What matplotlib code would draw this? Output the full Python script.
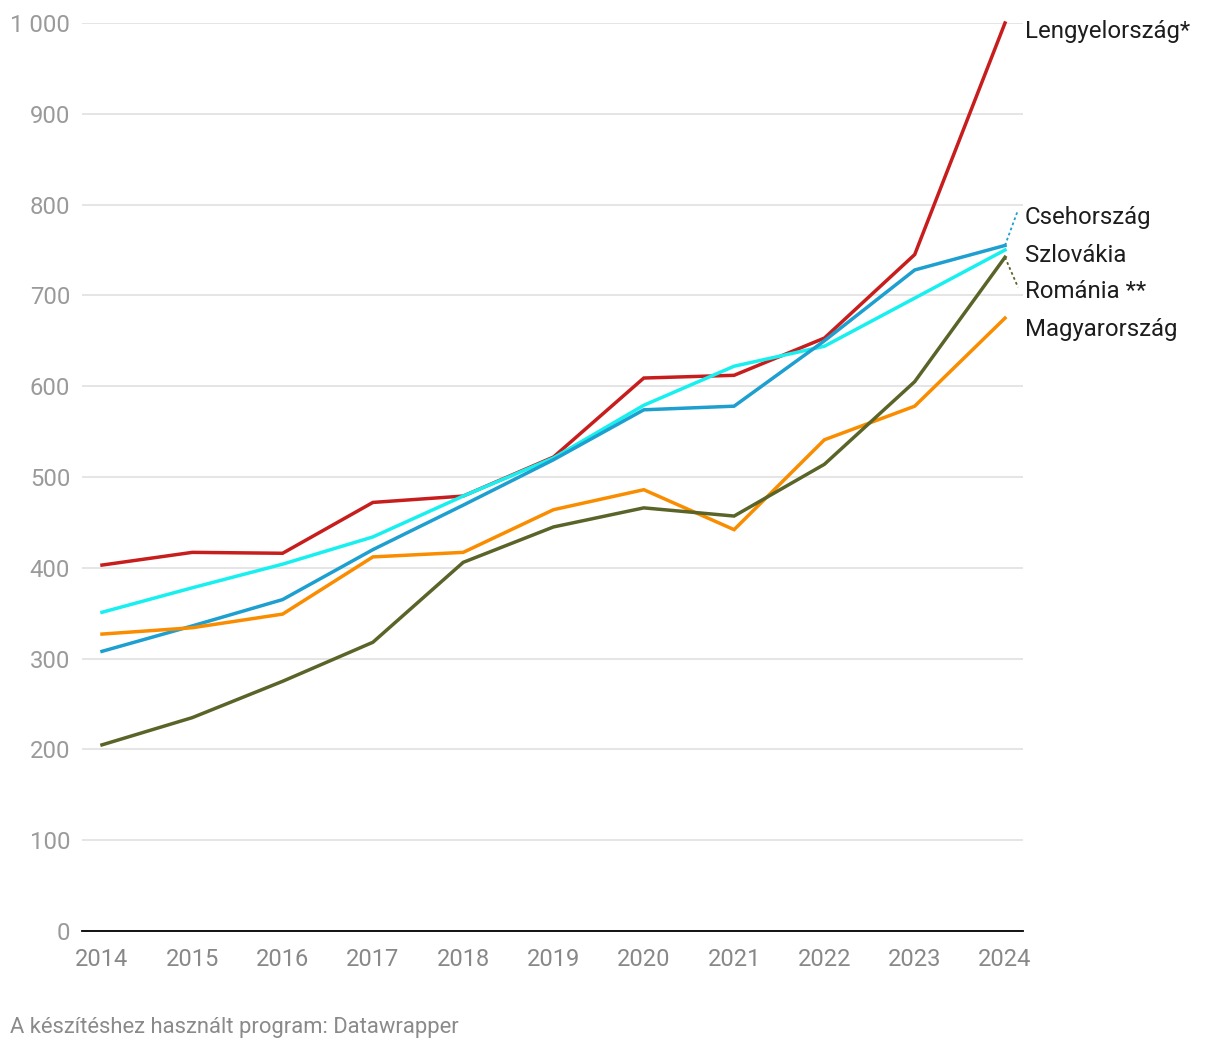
import matplotlib
matplotlib.use("Agg")
import matplotlib.pyplot as plt
from matplotlib.ticker import FuncFormatter

years = [2014, 2015, 2016, 2017, 2018, 2019, 2020, 2021, 2022, 2023, 2024]
lengyel = [403, 417, 416, 472, 479, 522, 609, 612, 653, 745, 1000]
cseh = [308, 336, 365, 420, 469, 519, 574, 578, 650, 728, 755]
szlovak = [351, 378, 404, 434, 479, 521, 579, 622, 644, 697, 750]
roman = [205, 235, 275, 318, 406, 445, 466, 457, 514, 605, 742]
magyar = [327, 334, 349, 412, 417, 464, 486, 442, 541, 578, 675]

series = [
    ("Lengyelország*", lengyel, "#c71e1d"),
    ("Szlovákia", szlovak, "#18f0f0"),
    ("Csehország", cseh, "#1d9fd0"),
    ("Magyarország", magyar, "#fa8c00"),
    ("Románia **", roman, "#5a6428"),
]
label_y = {"Lengyelország*": 991, "Csehország": 786, "Szlovákia": 744,
           "Románia **": 704, "Magyarország": 662}
yticks = [0, 100, 200, 300, 400, 500, 600, 700, 800, 900, 1000]

plt.rcParams['font.family'] = ['Roboto', 'DejaVu Sans']

fig = plt.figure(figsize=(12.2, 10.48), dpi=100)
ax = fig.add_axes([82/1220, 1-931/1048, (1023-82)/1220, (931-23)/1048])
ax.set_xlim(2014 - 20/90.3, 2024 + 18/90.3)
ax.set_ylim(0, 1000)

for name, vals, col in series:
    ax.plot(years, vals, color=col, lw=2.5, solid_joinstyle='miter', clip_on=False, zorder=3)

# labels
for name, vals, col in series:
    ax.text(2024 + 20/90.3, label_y[name], name, fontsize=17.3, color='#1d1d1d',
            va='center', ha='left', clip_on=False)

# dotted connectors
ax.plot([2024, 2024 + 13/90.3], [cseh[-1], 794], ls=(0, (1.5, 1.5)), color="#1d9fd0", lw=1.3, clip_on=False)
ax.plot([2024, 2024 + 13/90.3], [roman[-1], 709], ls=(0, (1.5, 1.5)), color="#5a6428", lw=1.3, clip_on=False)

ax.set_yticks(yticks)
ax.yaxis.set_major_formatter(FuncFormatter(lambda v, p: f"{int(v):,}".replace(",", " ")))
ax.set_xticks(years)
ax.grid(axis='y', color='#e3e3e3', lw=1.3, zorder=0)
for s in ['top', 'right', 'left']:
    ax.spines[s].set_visible(False)
ax.spines['bottom'].set_color('#000000')
ax.spines['bottom'].set_linewidth(1.3)
ax.spines['bottom'].set_zorder(4)
ax.tick_params(axis='y', length=0, pad=8.5, labelsize=17.2, labelcolor='#9a9a9a')
ax.tick_params(axis='x', length=0, pad=12.5, labelsize=17, labelcolor='#888888')

fig.text(10/1220, 1-1027/1048, "A készítéshez használt program: Datawrapper", fontsize=15.8,
         color='#8a8a8a', va='center', ha='left')

fig.savefig("out.png", dpi=100)
